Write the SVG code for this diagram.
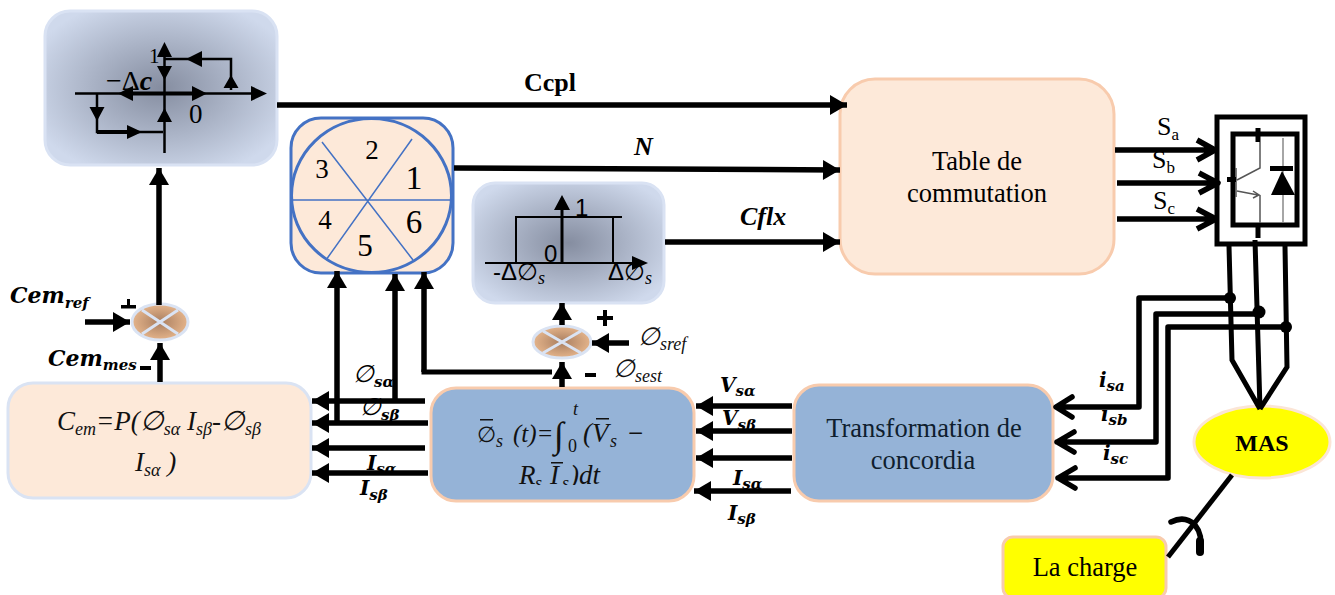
<svg xmlns="http://www.w3.org/2000/svg" width="1335" height="595" viewBox="0 0 1335 595">
<style>
text{font-family:"Liberation Serif","DejaVu Serif",serif;fill:#000}
.m{font-style:italic;font-size:27px;fill:#111}
.ms{font-size:18px}
.b{font-family:"DejaVu Serif",serif;font-style:italic;font-weight:700;font-size:20px}
.big{font-size:22px}
.sub{font-size:15px}
.w{fill:none;stroke:#000;stroke-width:5}
.a{fill:none;stroke:#000;stroke-width:5.5;marker-end:url(#ah)}
.o{fill:none;stroke:#000;stroke-width:5.5;stroke-linecap:round;stroke-linejoin:round}
.t{font-size:26.5px;text-anchor:middle}
.hb{fill:url(#grey);stroke:#d9e2f3;stroke-width:3}
.pe{fill:#fde9d9;stroke:#f8cbad;stroke-width:3}
.bl{fill:#95b3d7;stroke:#f8cbad;stroke-width:3}
.sum{fill:url(#tan);stroke:#dae3f3;stroke-width:3}
.x{stroke:#dae3f3;stroke-width:3}
.n{text-anchor:middle}
.s{stroke:#4472c4;fill:none}
.thin{stroke:#555;stroke-width:1.5;fill:none}
.ss{font-family:"Liberation Sans",sans-serif;font-size:24px}
</style>
<defs>
<radialGradient id="grey" cx="50%" cy="50%" r="60%"><stop offset="0" stop-color="#858da0"/><stop offset="1" stop-color="#cfd9ec"/></radialGradient>
<radialGradient id="tan" cx="50%" cy="50%" r="55%"><stop offset="0" stop-color="#a97e60"/><stop offset="1" stop-color="#eab98f"/></radialGradient>
<marker id="ah" markerUnits="userSpaceOnUse" markerWidth="18" markerHeight="20" refX="17" refY="10" orient="auto" overflow="visible"><path d="M0,0L17,10L0,20Z"/></marker>
<clipPath id="c1"><rect x="500" y="455" width="120" height="30"/></clipPath>
</defs>

<g id="hysteresis-couple">
<rect class="hb" x="45" y="11" width="232" height="154" rx="25"/>
<text x="149" y="63" font-size="21">1</text>
<text x="106" y="90" font-size="28">−Δ<tspan font-style="italic" font-weight="700">c</tspan></text>
<text x="189" y="123" font-size="27">0</text>
<path d="M75,93.5H252M164.5,153V55M164.5,59H231V90M97,94V132H135M135,132H163" fill="none" stroke="#000" stroke-width="2.5"/>
<path d="M132,93.5H195M97,132H130" fill="none" stroke="#000" stroke-width="4"/>
<path d="M267,93.5L251,86V101ZM118,93.5L133,86V101ZM207,93.5L192,86V101ZM164.5,42L157,57H172ZM164.5,80L157,66H172ZM164.5,108L157,122H172ZM186,59L202,51V67ZM231,75L223.500,88H238.500ZM97,121L89.500,107H104.500ZM142,132L127,125V139Z"/>
</g>

<g id="secteurs">
<rect x="291" y="118" width="162" height="155" rx="30" fill="#fde9d9" stroke="#4472c4" stroke-width="3"/>
<ellipse class="s" cx="371.500" cy="195.500" rx="80" ry="77" stroke-width="3"/>
<path class="s" stroke-width="1.500" d="M291,200H452M322,142L413,260M412,139L326,260"/>
<text class="n" x="372" y="159" font-size="27">2</text>
<text class="n" x="322" y="178" font-size="27">3</text>
<text class="n" x="414" y="189" font-size="34">1</text>
<text class="n" x="325" y="229" font-size="27">4</text>
<text class="n" x="414" y="233" font-size="33">6</text>
<text class="n" x="365" y="256" font-size="31">5</text>
</g>

<g id="hysteresis-flux">
<rect class="hb" x="473" y="183" width="191" height="120" rx="22"/>
<path d="M485,263H640M516,263V217M613,263V217M515,217H622" fill="none" stroke="#000" stroke-width="2"/>
<path d="M562,263V205" fill="none" stroke="#000" stroke-width="3"/>
<path d="M648,263L632,256V270ZM562,195L554,210H570Z"/>
<text class="ss" x="575" y="216">1</text>
<text class="ss" x="544" y="262">0</text>
<text class="ss" x="493" y="280">-Δ∅<tspan font-size="18" font-style="italic" dy="4" style="font-family:'Liberation Serif',serif">s</tspan></text>
<text class="ss" x="608" y="280">Δ∅<tspan font-size="18" font-style="italic" dy="4" style="font-family:'Liberation Serif',serif">s</tspan></text>
</g>

<g id="table">
<rect class="pe" x="840" y="79" width="274" height="195" rx="35"/>
<text class="t" x="977" y="170">Table de</text>
<text class="t" x="977" y="202">commutation</text>
</g>

<g id="sum-couple">
<ellipse class="sum" cx="160" cy="322" rx="28" ry="18"/>
<path class="x" d="M142,310L178,334M142,334L178,310"/>
</g>
<g id="sum-flux">
<ellipse class="sum" cx="562" cy="342" rx="29" ry="16"/>
<path class="x" d="M543,331L581,353M543,353L581,331"/>
</g>

<g id="cem">
<rect class="pe" x="8" y="383" width="303" height="115" rx="25" style="stroke:#dae3f3"/>
<text class="m" x="57" y="430">C<tspan class="ms" dy="5">em</tspan><tspan dy="-5">=P(∅</tspan><tspan class="ms" dy="5">sα</tspan><tspan dy="-5"> I</tspan><tspan class="ms" dy="5">sβ</tspan><tspan dy="-5">-∅</tspan><tspan class="ms" dy="5">sβ</tspan></text>
<text class="m" x="135" y="471">I<tspan class="ms" dy="5">sα</tspan><tspan dy="-5">  )</tspan></text>
</g>

<g id="flux">
<rect class="bl" x="431" y="388" width="263" height="113" rx="25"/>
<text class="m" x="477" y="442" style="font-size:22px;font-style:normal">∅</text><text class="m ms" x="496" y="447">s</text>
<text class="m" x="513" y="442" style="font-size:25px">(t)=</text>
<text class="m" x="554" y="447" style="font-size:36px;font-style:normal">∫</text>
<text class="m ms" x="568" y="452" style="font-style:normal">0</text>
<text class="m ms" x="573" y="415">t</text>
<text class="m" x="583" y="442">(V</text><text class="m ms" x="610" y="447">s</text>
<text class="m" x="628" y="442" style="font-style:normal">−</text>
<rect x="480" y="419" width="13" height="1.500" fill="#111"/><rect x="596" y="418" width="13" height="1.500" fill="#111"/>
<g clip-path="url(#c1)"><text class="m" x="519" y="484">R</text><text class="m ms" x="535" y="489">s</text><text class="m" x="550" y="484">I</text><text class="m ms" x="562" y="489">s</text><text class="m" x="570" y="484">)dt</text></g>
<rect x="551" y="462" width="12" height="1.500" fill="#111"/>
</g>

<g id="concordia">
<rect class="bl" x="794" y="385" width="259" height="116" rx="25"/>
<text class="t" x="924" y="437" style="fill:#0f1e2e">Transformation de</text>
<text class="t" x="923" y="469" style="fill:#0f1e2e">concordia</text>
</g>

<g id="mas">
<ellipse cx="1262" cy="442" rx="68" ry="36" fill="#ff0" stroke="#fbe5d6" stroke-width="3"/>
<text x="1262" y="451" font-size="24" font-weight="700" text-anchor="middle">MAS</text>
</g>

<g id="charge">
<rect x="1003" y="537" width="163" height="61" rx="10" fill="#ff0" stroke="#f8cbad" stroke-width="3"/>
<text class="t" x="1085" y="576">La charge</text>
</g>

<g id="onduleur">
<rect x="1217" y="117" width="88" height="127" fill="none" stroke="#000" stroke-width="5"/>
<rect x="1233" y="134" width="64" height="91" fill="none" stroke="#000" stroke-width="5"/>
<path d="M1258,128V142M1258,225V238" stroke="#000" stroke-width="5" fill="none"/>
<path class="thin" d="M1260,142V168L1237,180M1236,168V197M1237,191L1258,195M1253,191L1259,195L1253,198M1260,195V223"/>
<path d="M1283,138V222" stroke="#888" stroke-width="1.500" fill="none"/>
<rect x="1227" y="177" width="9" height="5"/>
<rect x="1270" y="166" width="23" height="5"/>
<path d="M1282,171L1271,195H1295Z"/>
</g>

<g id="connectors">
<path class="a" d="M277,105H847"/>
<path class="a" d="M454,168L840,170"/>
<path class="a" d="M665,242H840"/>
<path class="o" d="M1115,150H1215M1197,140L1215,150L1197,160" style="stroke-linecap:butt"/>
<path class="o" d="M1117,183H1218M1199,173L1218,183L1199,193" style="stroke-linecap:butt"/>
<path class="o" d="M1117,219H1218M1197,209L1216,219L1197,229" style="stroke-linecap:butt"/>
<path class="w" d="M1229,246L1232,360L1260,409M1255,240L1260,409M1285,246L1287,367L1260,409"/>
<circle cx="1230" cy="298" r="6"/><circle cx="1259" cy="312" r="6.500"/><circle cx="1286" cy="327" r="6"/>
<path class="o" d="M1230,298H1139V407H1057M1072,397L1056,407L1072,417"/>
<path class="o" d="M1259,314H1156V442H1057M1074,432L1057,442L1074,452"/>
<path class="o" d="M1286,327H1168V478H1058M1075,468L1058,478L1075,488"/>
<path class="w" d="M1232,475L1168,557"/>
<path d="M1171,522Q1185,515 1195,525Q1203,535 1200,550" fill="none" stroke="#000" stroke-width="5.500" stroke-linecap="round"/>
<path d="M1200,541V552" stroke="#000" stroke-width="8" stroke-linecap="round"/>
</g>

<g id="labels">
<text x="524" y="91" font-size="26" font-weight="700">Ccpl</text>
<text x="634" y="155" font-size="26" font-weight="700" font-style="italic">N</text>
<text x="740" y="225" font-size="26" font-weight="700" font-style="italic">Cflx</text>
<text x="1157" y="135" font-size="26">S<tspan font-size="17" dy="5">a</tspan></text>
<text x="1152" y="168" font-size="26">S<tspan font-size="17" dy="5">b</tspan></text>
<text x="1153" y="209" font-size="26">S<tspan font-size="17" dy="5">c</tspan></text>
<text class="b big" x="10" y="303">Cem<tspan class="sub" dy="5">ref</tspan></text>
<text class="b big" x="48" y="366">Cem<tspan class="sub" dy="4">mes</tspan></text>
<rect x="121" y="305" width="15" height="3.500"/><rect x="127" y="299" width="3" height="8"/>
<rect x="140" y="366" width="11" height="4"/>
<rect x="597" y="316" width="16" height="4"/><rect x="603" y="310" width="4" height="16"/>
<rect x="585" y="373" width="11" height="4"/>
<text class="m" x="638" y="345" style="font-size:25px">∅<tspan class="ms" dy="5">sref</tspan></text>
<text class="m" x="613" y="377" style="font-size:25px">∅<tspan class="ms" dy="5">sest</tspan></text>
<text class="b" x="353" y="382" style="font-weight:400;font-family:'Liberation Serif',serif;font-size:24px">∅<tspan class="sub" dy="5" font-weight="700" style="font-family:'DejaVu Serif',serif">sα</tspan></text>
<text class="b" x="360" y="415" style="font-weight:400;font-family:'Liberation Serif',serif;font-size:24px">∅<tspan class="sub" dy="5" font-weight="700" style="font-family:'DejaVu Serif',serif">sβ</tspan></text>
<text class="b" x="367" y="470">I<tspan class="sub" dy="4">sα</tspan></text>
<text class="b" x="360" y="495">I<tspan class="sub" dy="5">sβ</tspan></text>
<text class="b" x="720" y="392">V<tspan class="sub" dy="4">sα</tspan></text>
<text class="b" x="722" y="425">V<tspan class="sub" dy="5">sβ</tspan></text>
<text class="b" x="733" y="485">I<tspan class="sub" dy="4">sα</tspan></text>
<text class="b" x="728" y="520">I<tspan class="sub" dy="4">sβ</tspan></text>
<text class="b" x="1099" y="387">i<tspan class="sub" dy="4">sa</tspan></text>
<text class="b" x="1101" y="421">i<tspan class="sub" dy="4">sb</tspan></text>
<text class="b" x="1103" y="460">i<tspan class="sub" dy="4">sc</tspan></text>
</g>

<g id="connectors-2">
<path class="a" d="M160,382V343"/>
<path class="a" d="M159,305V168"/>
<path class="a" d="M85,322H130"/>
<path class="a" d="M562,325V303"/>
<path class="a" d="M629,343H592"/>
<path class="a" d="M562,387V362"/>
<path class="a" d="M424,372V272"/>
<path class="w" d="M421.500,372H552"/>
<path class="a" d="M337,421V271"/>
<path class="a" d="M395,399V274"/>
<path class="a" d="M425,401H312"/>
<path class="a" d="M428,423H312"/>
<path class="a" d="M425,448H312"/>
<path class="a" d="M428,473H312"/>
<path class="a" d="M792,406H696"/>
<path class="a" d="M792,431H696"/>
<path class="a" d="M792,458H696"/>
<path class="a" d="M791,491H694"/>
</g>
</svg>
